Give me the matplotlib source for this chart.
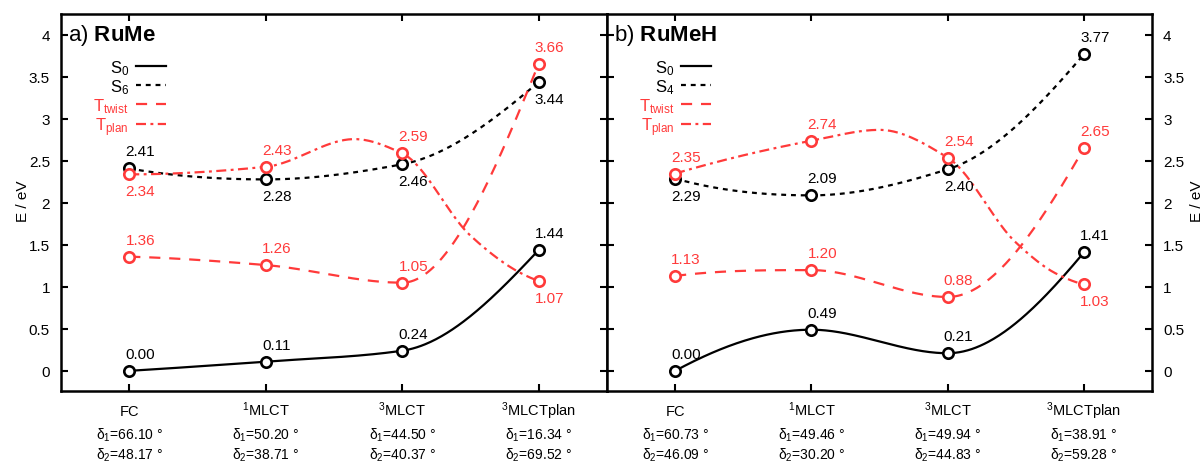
import numpy as np
import matplotlib
matplotlib.use("Agg")
import matplotlib.pyplot as plt
from matplotlib.ticker import FormatStrFormatter

plt.rcParams['font.family'] = ['Liberation Sans', 'DejaVu Sans']
plt.rcParams['mathtext.fontset'] = 'custom'
plt.rcParams['mathtext.rm'] = 'Liberation Sans'
plt.rcParams['mathtext.it'] = 'Liberation Sans:italic'
plt.rcParams['mathtext.bf'] = 'Liberation Sans:bold'
plt.rcParams['mathtext.default'] = 'regular'

RED = '#ff3a3a'

# geometries along the path
stations = ['FC', '$^1$MLCT', '$^3$MLCT', '$^3$MLCTplan']
x_pos = [0, 1, 2, 3]

# dihedral angles at each geometry
rume_d1 = [66.10, 50.20, 44.50, 16.34]
rume_d2 = [48.17, 38.71, 40.37, 69.52]
rumeh_d1 = [60.73, 49.46, 49.94, 38.91]
rumeh_d2 = [46.09, 30.20, 44.83, 59.28]

# energies (eV)
rume_s0 = [0.00, 0.11, 0.24, 1.44]
rume_s6 = [2.41, 2.28, 2.46, 3.44]
rume_ttwist = [1.36, 1.26, 1.05, 3.66]
rume_tplan = [2.34, 2.43, 2.59, 1.07]

rumeh_s0 = [0.00, 0.49, 0.21, 1.41]
rumeh_s4 = [2.29, 2.09, 2.40, 3.77]
rumeh_ttwist = [1.13, 1.20, 0.88, 2.65]
rumeh_tplan = [2.35, 2.74, 2.54, 1.03]

# extra points on the T_plan curves between geometries
rume_tplan_mid_x = [1.65, 2.5, 2.85]
rume_tplan_mid_y = [2.76, 1.61, 1.18]
rumeh_tplan_mid_x = [1.5, 2.5, 2.8]
rumeh_tplan_mid_y = [2.87, 1.53, 1.155]

# which side of the marker each value label goes (1 above, -1 below)
rume_side = {'S0': [1, 1, 1, 1], 'S': [1, -1, -1, -1],
             'Tt': [1, 1, 1, 1], 'Tp': [-1, 1, 1, -1]}
rumeh_side = {'S0': [1, 1, 1, 1], 'S': [-1, 1, -1, 1],
              'Tt': [1, 1, 1, 1], 'Tp': [1, 1, 1, -1]}


def pchip(x, y, xs):
    x = np.asarray(x, float)
    y = np.asarray(y, float)
    h = np.diff(x)
    d = np.diff(y) / h
    m = np.zeros_like(y)
    for k in range(1, len(y) - 1):
        if d[k - 1] * d[k] > 0:
            w1 = 2 * h[k] + h[k - 1]
            w2 = h[k] + 2 * h[k - 1]
            m[k] = (w1 + w2) / (w1 / d[k - 1] + w2 / d[k])

    def end(h0, h1, d0, d1):
        s = ((2 * h0 + h1) * d0 - h0 * d1) / (h0 + h1)
        if np.sign(s) != np.sign(d0):
            s = 0.0
        elif np.sign(d0) != np.sign(d1) and abs(s) > abs(3 * d0):
            s = 3 * d0
        return s

    m[0] = end(h[0], h[1], d[0], d[1])
    m[-1] = end(h[-1], h[-2], d[-1], d[-2])
    i = np.clip(np.searchsorted(x, xs) - 1, 0, len(h) - 1)
    t = (xs - x[i]) / h[i]
    h00 = 2 * t**3 - 3 * t**2 + 1
    h10 = t**3 - 2 * t**2 + t
    h01 = -2 * t**3 + 3 * t**2
    h11 = t**3 - t**2
    return h00 * y[i] + h10 * h[i] * m[i] + h01 * y[i + 1] + h11 * h[i] * m[i + 1]


def curve(ax, y, color, dashes, label, sides, extra_x=None, extra_y=None):
    nx = list(x_pos)
    ny = list(y)
    if extra_x is not None:
        nx = nx + list(extra_x)
        ny = ny + list(extra_y)
        order = np.argsort(nx)
        nx = np.array(nx)[order]
        ny = np.array(ny)[order]
    xs = np.linspace(0, 3, 300)
    line, = ax.plot(xs, pchip(nx, ny, xs), color=color, lw=1.6, label=label)
    if dashes:
        line.set_dashes(dashes)
    ax.plot(x_pos, y, 'o', ms=7.5, mfc='white', mec=color, mew=1.9,
            zorder=5, clip_on=False)
    for xi, yi, s in zip(x_pos, y, sides):
        ax.annotate('%.2f' % yi, (xi, yi), xytext=(11, 17 * s),
                    textcoords='offset pixels', ha='center', va='center',
                    color=color, fontsize=11)


def setup(ax, d1, d2, left):
    ax.set_xlim(-0.5, 3.5)
    ax.set_ylim(-0.24, 4.25)
    ax.set_yticks(np.arange(0, 4.01, 0.5))
    ax.yaxis.set_major_formatter(FormatStrFormatter('%g'))
    ax.set_xticks(x_pos)
    ax.tick_params(direction='in', length=5, width=1.5, top=True,
                   left=True, right=True, labelsize=11, pad=8,
                   labelleft=left, labelright=not left, labelbottom=False)
    for sp in ax.spines.values():
        sp.set_linewidth(1.8)
    # station names and angles under each tick
    tr = ax.get_xaxis_transform()
    for xi, s, a, b in zip(x_pos, stations, d1, d2):
        ax.text(xi, -0.064, s, transform=tr, ha='center', va='baseline',
                fontsize=10.5)
        ax.text(xi, -0.125, '$\\delta_1$=%.2f °' % a, transform=tr,
                ha='center', va='baseline', fontsize=10)
        ax.text(xi, -0.18, '$\\delta_2$=%.2f °' % b, transform=tr,
                ha='center', va='baseline', fontsize=10)


fig = plt.figure(figsize=(12.04, 4.64), dpi=100)
ax_a = fig.add_axes([61 / 1204, 72 / 464, 546 / 1204, 377 / 464])
ax_b = fig.add_axes([607 / 1204, 72 / 464, 545 / 1204, 377 / 464])

setup(ax_a, rume_d1, rume_d2, True)
setup(ax_b, rumeh_d1, rumeh_d2, False)

curve(ax_a, rume_s0, 'black', None, 'S$_0$', rume_side['S0'])
curve(ax_a, rume_s6, 'black', (2.2, 2.2), 'S$_6$', rume_side['S'])
curve(ax_a, rume_ttwist, RED, (5, 4), 'T$_{twist}$', rume_side['Tt'])
curve(ax_a, rume_tplan, RED, (4.5, 2, 1.3, 2), 'T$_{plan}$', rume_side['Tp'],
      rume_tplan_mid_x, rume_tplan_mid_y)

curve(ax_b, rumeh_s0, 'black', None, 'S$_0$', rumeh_side['S0'])
curve(ax_b, rumeh_s4, 'black', (2.2, 2.2), 'S$_4$', rumeh_side['S'])
curve(ax_b, rumeh_ttwist, RED, (5, 4), 'T$_{twist}$', rumeh_side['Tt'])
curve(ax_b, rumeh_tplan, RED, (4.5, 2, 1.3, 2), 'T$_{plan}$', rumeh_side['Tp'],
      rumeh_tplan_mid_x, rumeh_tplan_mid_y)

for ax, title in [(ax_a, 'a) $\\mathbf{RuMe}$'), (ax_b, 'b) $\\mathbf{RuMeH}$')]:
    ax.text(0.012, 0.945, title, transform=ax.transAxes, fontsize=16,
            ha='left', va='center')
    ax.legend(loc='upper right', bbox_to_anchor=(0.207, 0.905), frameon=False,
              markerfirst=False, handlelength=1.8, handletextpad=0.4,
              labelspacing=0.02, borderpad=0, fontsize=12,
              labelcolor=['black', 'black', RED, RED])

fig.text(23 / 1204, 0.567, 'E / eV', rotation=90, ha='center', va='center',
         fontsize=11)
fig.text(1197 / 1204, 0.567, 'E / eV', rotation=90, ha='center', va='center',
         fontsize=11)

fig.savefig('out.png', dpi=100)
